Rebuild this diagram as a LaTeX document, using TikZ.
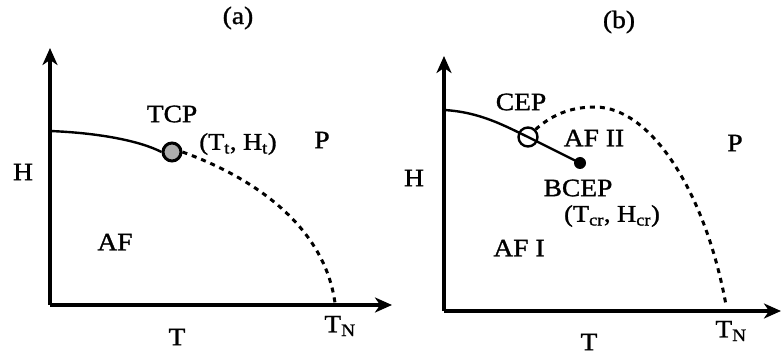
\documentclass[tikz,border=0pt]{standalone}
\usepackage{fontspec}
\setmainfont{Liberation Serif}[FakeStretch=1.1,FakeBold=1.2]
\usetikzlibrary{arrows.meta}
\begin{document}
\begin{tikzpicture}[x=1pt,y=-1pt,
  axis/.style={line width=3.5pt,-{Stealth[length=17pt,width=15pt,inset=5pt]}},
  solidline/.style={line width=2.4pt},
  dashline/.style={line width=3pt,dash pattern=on 5pt off 5pt},
  lbl/.style={font=\fontsize{25}{26}\selectfont,inner sep=0pt},
  ptlbl/.style={font=\fontsize{24}{25}\selectfont,inner sep=0pt}]
\useasboundingbox (0,0) rectangle (782,358);
% ---------- panel (a)
\coordinate (Oa) at (50,305);
\coordinate (Ya) at (50,48);
\coordinate (Xa) at (392,305);
\coordinate (Ha) at (50,131);
\coordinate (TNa) at (335,303);
\node[circle,draw,line width=3pt,fill=gray!65,minimum size=18pt,inner sep=0pt] (tcp) at (172,152) {};
\draw[axis] (Oa) -- (Ya);
\draw[axis] (Oa) -- (Xa);
\draw[solidline] (Ha) .. controls (100,133) and (140,141) .. (tcp.west);
\draw[dashline] (tcp.east) .. controls (260,180) and (325,230) .. (TNa);
\node[lbl] (la) at (238,18) {(a)};
\node[lbl] (tcpl) at (172,114) {TCP};
\node[ptlbl] (tht) at (238,144) {(T\textsubscript{t}, H\textsubscript{t})};
\node[lbl] (pa) at (322,140) {P};
\node[lbl] (hA) at (23,172) {H};
\node[lbl] (afa) at (115,242) {AF};
\node[lbl] (ta) at (177,337) {T};
\node[lbl] (tna) at (340,326) {T\textsubscript{N}};
% ---------- panel (b)
\coordinate (Ob) at (444,311);
\coordinate (Yb) at (444,56);
\coordinate (Xb) at (781,311);
\coordinate (Hb) at (444,110);
\coordinate (TNb) at (726,305);
\coordinate (peak) at (595,107);
\node[circle,draw,line width=2.4pt,minimum size=19pt,inner sep=0pt] (cep) at (528,137) {};
\node[circle,fill,minimum size=12pt,inner sep=0pt] (bcep) at (580,163) {};
\draw[axis] (Ob) -- (Yb);
\draw[axis] (Ob) -- (Xb);
\draw[solidline] (Hb) .. controls (480,112) and (505,126) .. (cep.center) -- (bcep.center);
\draw[dashline] (cep.north east) .. controls (555,112) and (575,107) .. (peak) .. controls (650,107) and (705,190) .. (TNb);
\node[lbl] (lb) at (619,22) {(b)};
\node[lbl] (cepl) at (521,102) {CEP};
\node[lbl] (af2) at (594,138) {AF II};
\node[lbl] (pb) at (735,143) {P};
\node[lbl] (hB) at (414,178) {H};
\node[lbl] (bcepl) at (578,188) {BCEP};
\node[ptlbl] (tch) at (612,216) {(T\textsubscript{cr}, H\textsubscript{cr})};
\node[lbl] (af1) at (519,248) {AF I};
\node[lbl] (tb) at (589,342) {T};
\node[lbl] (tnb) at (731,331) {T\textsubscript{N}};
\end{tikzpicture}
\end{document}
